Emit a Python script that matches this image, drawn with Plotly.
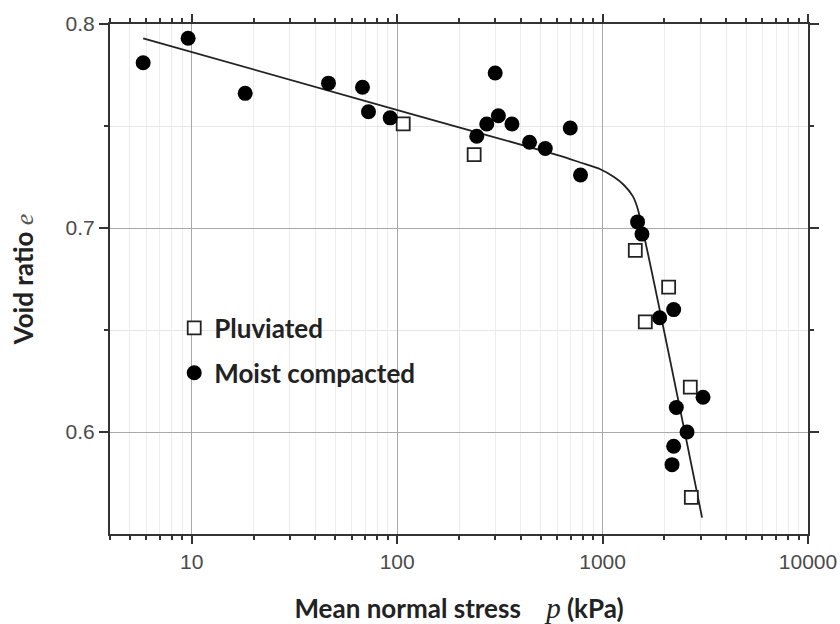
import plotly.graph_objects as go

# ---- data ----
pluv_p = [107, 237, 1443, 1614, 2097, 2673, 2704]
pluv_e = [0.751, 0.736, 0.689, 0.654, 0.671, 0.622, 0.568]

moist_p = [5.8, 9.6, 18.2, 46.3, 67.8, 72.5, 92.5, 244, 273, 300, 311, 362,
           441, 526, 696, 781, 1480, 1555, 1895, 2218, 2285, 2577, 2218, 2178, 3083]
moist_e = [0.781, 0.793, 0.766, 0.771, 0.769, 0.757, 0.754, 0.745, 0.751, 0.776, 0.755, 0.751,
           0.742, 0.739, 0.749, 0.726, 0.703, 0.697, 0.656, 0.660, 0.612, 0.600, 0.593, 0.584, 0.617]

fit_p = [5.8, 130, 622, 778, 975, 1132, 1266, 1405, 1487, 3050]
fit_e = [0.793, 0.7546, 0.7354, 0.7321, 0.7288, 0.7251, 0.7212, 0.7155, 0.7090, 0.558]

x_tickvals = [10, 100, 1000, 10000]
x_ticktext = ["10", "100", "1000", "10000"]
x_minor_vals = [4, 5, 6, 7, 8, 9,
                20, 30, 40, 50, 60, 70, 80, 90,
                200, 300, 400, 500, 600, 700, 800, 900,
                2000, 3000, 4000, 5000, 6000, 7000, 8000, 9000]
y_tickvals = [0.6, 0.7, 0.8]
y_ticktext = ["0.6", "0.7", "0.8"]
y_minor_vals = [0.65, 0.75]

fig = go.Figure()

fig.add_trace(go.Scatter(
    x=fit_p, y=fit_e, mode="lines", line=dict(color="#222222", width=1.8, shape="spline", smoothing=0.6),
    showlegend=False, hoverinfo="skip"))

fig.add_trace(go.Scatter(
    x=pluv_p, y=pluv_e, mode="markers", name="Pluviated", legendgroup="a",
    marker=dict(symbol="square", size=13, color="white", line=dict(color="#222222", width=1.8))))

fig.add_trace(go.Scatter(
    x=moist_p, y=moist_e, mode="markers", name="Moist compacted", legendgroup="b",
    marker=dict(symbol="circle", size=15, color="#000000", line=dict(width=0))))

axis_common = dict(
    showline=True, linecolor="#333333", linewidth=2, mirror="allticks",
    ticks="outside", tickcolor="#333333", tickwidth=1.5,
    tickfont=dict(family="Liberation Sans, Arial, sans-serif", size=21, color="#4a4a4a"),
    zeroline=False, automargin=False,
)

title_font = dict(family="Lato, sans-serif", size=26, color="#222222", weight="bold")

fig.update_xaxes(
    type="log", range=[0.602, 4.0],
    tickvals=x_tickvals, ticktext=x_ticktext, ticklen=8,
    showgrid=True, gridcolor="#a8a8a8", gridwidth=1,
    minor=dict(tickvals=x_minor_vals, ticks="outside", ticklen=4, tickcolor="#333333",
               showgrid=True, gridcolor="#ececec"),
    title=dict(text="Mean normal stress\u00a0\u00a0\u00a0 <span style='font-family:Liberation Serif;font-weight:normal;font-size:29px'><i>p</i></span> (kPa)",
               font=title_font, standoff=28),
    **axis_common)

fig.update_yaxes(
    range=[0.55, 0.8],
    tickvals=y_tickvals, ticktext=y_ticktext, ticklen=9,
    showgrid=True, gridcolor="#a8a8a8", gridwidth=1,
    minor=dict(tickvals=y_minor_vals, ticks="outside", ticklen=4, tickcolor="#333333",
               showgrid=True, gridcolor="#e6e6e6"),
    title=dict(text="Void ratio <span style='font-family:Liberation Serif;font-weight:normal;color:#555'><i>e</i></span>",
               font=title_font, standoff=24),
    **axis_common)

fig.update_layout(
    width=840, height=624,
    margin=dict(l=110, r=32, t=24, b=90, autoexpand=False),
    paper_bgcolor="white", plot_bgcolor="white",
    legend=dict(x=0.092, y=0.45, xanchor="left", yanchor="top",
                bgcolor="rgba(0,0,0,0)", borderwidth=0,
                font=title_font,
                traceorder="grouped", tracegroupgap=8, itemwidth=30),
)

fig.write_html("out.html")
